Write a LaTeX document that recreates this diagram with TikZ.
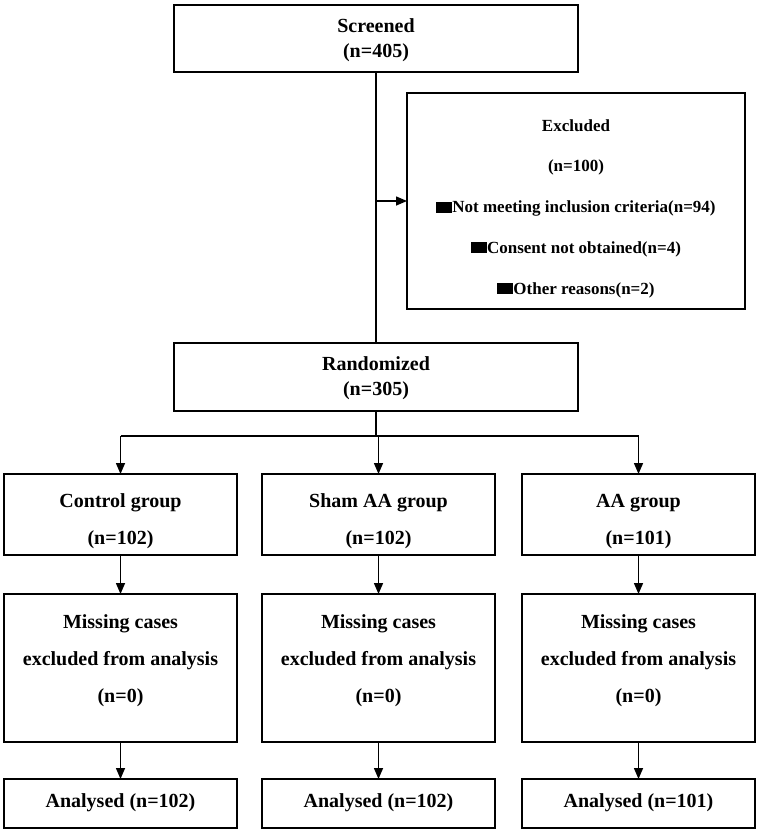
\documentclass[tikz,border=0pt]{standalone}
\usepackage{fontspec}
\setmainfont{Liberation Serif}
\usetikzlibrary{arrows.meta}
\newcommand\exsq{\rule{16pt}{11pt}}
\begin{document}
\begin{tikzpicture}[x=1pt,y=-1pt,
  box/.style={draw,line width=1.8pt,inner sep=0pt,outer sep=0pt},
  txt/.style={font=\fontsize{20}{25}\selectfont\bfseries,align=center,inner sep=0pt},
  conn/.style={line width=1.5pt},
  arr/.style={conn,-{Triangle[length=11pt,width=9pt]}}]
\useasboundingbox (0,0) rectangle (759,832);
% top boxes
\node[box,minimum width=404pt,minimum height=67pt] (screened) at (376,38.5) {};
\node[txt] (screenedT) at (376,40) {Screened\\(n=405)};
\node[box,minimum width=338pt,minimum height=216pt] (excl) at (576,201) {};
\node[txt,font=\fontsize{17}{40.75}\selectfont\bfseries] (exclT) at (576,208.5)
  {Excluded\\(n=100)\\\exsq Not meeting inclusion criteria(n=94)\\\exsq Consent not obtained(n=4)\\\exsq Other reasons(n=2)};
\node[box,minimum width=404pt,minimum height=68pt] (rand) at (376,377) {};
\node[txt] (randT) at (376,378.5) {Randomized\\(n=305)};
% groups
\foreach \i/\x/\name/\n in {1/120.5/Control group/102, 2/378.5/Sham AA group/102, 3/638.5/AA group/101}{
  \node[box,minimum width=233pt,minimum height=81pt] (g\i) at (\x,514.5) {};
  \node[txt,font=\fontsize{20}{37}\selectfont\bfseries] (g\i T) at (\x,521.5) {\name\\(n=\n)};
  \node[box,minimum width=233pt,minimum height=148pt] (m\i) at (\x,668) {};
  \node[txt,font=\fontsize{20}{37}\selectfont\bfseries] (m\i T) at (\x,660.5) {Missing cases\\excluded from analysis\\(n=0)};
  \node[box,minimum width=233pt,minimum height=49pt] (a\i) at (\x,803.5) {};
  \node[txt] (a\i T) at (\x,803) {Analysed (n=\n)};
}
% connectors
\draw[conn] (screened) -- (rand);
\coordinate (branch) at (screened.south |- excl.west);
\draw[arr] (branch) -- (excl.west);
\coordinate (split) at (376,436);
\draw[conn] (rand) -- (split);
\draw[conn] (g1.north |- split) -- (g3.north |- split);
\foreach \i in {1,2,3}{
  \draw[arr] (g\i.north |- split) -- (g\i.north);
  \draw[arr] (g\i) -- (m\i);
  \draw[arr] (m\i) -- (a\i);
}
\end{tikzpicture}
\end{document}
